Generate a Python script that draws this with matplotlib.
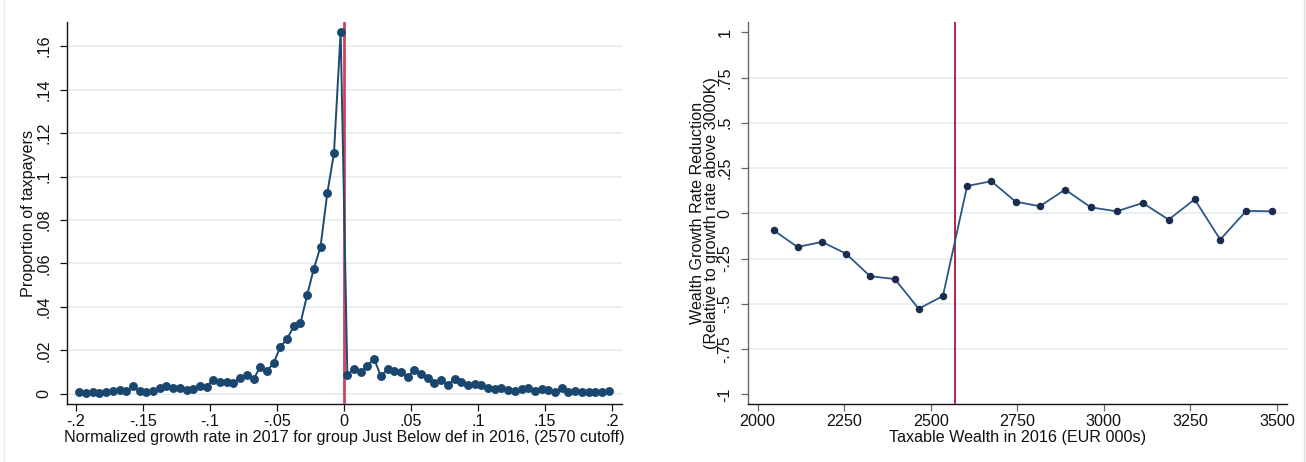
import matplotlib
matplotlib.use("Agg")
import matplotlib.pyplot as plt
from matplotlib.lines import Line2D
import numpy as np

plt.rcParams['font.family'] = ['Liberation Sans', 'DejaVu Sans']

# ---- Left panel data: bunching histogram (bin centres, proportions) ----
left_x = [round(-0.1975 + 0.005 * i, 4) for i in range(80)]
left_y = [
    0.0009, 0.0006, 0.0009, 0.0006, 0.0011, 0.0014, 0.0017, 0.0012, 0.0035, 0.0014,
    0.0009, 0.0014, 0.0026, 0.0038, 0.0029, 0.0026, 0.0020, 0.0023, 0.0037, 0.0034,
    0.0066, 0.0054, 0.0054, 0.0049, 0.0072, 0.0087, 0.0067, 0.0126, 0.0107, 0.0142,
    0.0217, 0.0253, 0.0311, 0.0325, 0.0455, 0.0576, 0.0678, 0.0922, 0.1107, 0.1665,
    0.0087, 0.0115, 0.0101, 0.0130, 0.0162, 0.0081, 0.0115, 0.0107, 0.0101, 0.0080,
    0.0109, 0.0090, 0.0073, 0.0052, 0.0063, 0.0043, 0.0069, 0.0055, 0.0040, 0.0047,
    0.0043, 0.0029, 0.0024, 0.0028, 0.0020, 0.0012, 0.0023, 0.0029, 0.0014, 0.0021,
    0.0017, 0.0011, 0.0029, 0.0011, 0.0014, 0.0008, 0.0011, 0.0011, 0.0008, 0.0015,
]
left_xticks = [-0.2, -0.15, -0.1, -0.05, 0, 0.05, 0.1, 0.15, 0.2]
left_xticklabels = ["-.2", "-.15", "-.1", "-.05", "0", ".05", ".1", ".15", ".2"]
left_yticks = [0, 0.02, 0.04, 0.06, 0.08, 0.1, 0.12, 0.14, 0.16]
left_yticklabels = ["0", ".02", ".04", ".06", ".08", ".1", ".12", ".14", ".16"]
left_cutoff = 0

# ---- Right panel data: growth-rate reduction by wealth bin ----
right_x = [2046, 2115, 2186, 2255, 2325, 2396, 2465, 2535, 2605, 2675,
           2745, 2815, 2888, 2962, 3037, 3112, 3187, 3262, 3336, 3411, 3486]
right_y = [-0.094, -0.186, -0.158, -0.223, -0.348, -0.363, -0.527, -0.457, 0.151, 0.177,
           0.064, 0.039, 0.131, 0.033, 0.011, 0.057, -0.035, 0.077, -0.145, 0.013, 0.011]
right_xticks = [2000, 2250, 2500, 2750, 3000, 3250, 3500]
right_xticklabels = ["2000", "2250", "2500", "2750", "3000", "3250", "3500"]
right_yticks = [-1, -0.75, -0.5, -0.25, 0, 0.25, 0.5, 0.75, 1]
right_yticklabels = ["-1", "-.75", "-.5", "-.25", "0", ".25", ".5", ".75", "1"]
right_gridticks = [-0.75, -0.5, -0.25, 0, 0.25, 0.5, 0.75]
right_cutoff = 2570

W, H = 1306, 462
fig = plt.figure(figsize=(W / 100, H / 100), dpi=100)
fig.patch.set_facecolor('white')

def ax_rect(x0, x1, y0, y1):
    return [x0 / W, 1 - y1 / H, (x1 - x0) / W, (y1 - y0) / H]

GRID = '#e6eef0'
FS = 11.6

# ---------------- Left ----------------
axL = fig.add_axes(ax_rect(66.7, 621.7, 22.3, 404.3))
for yv in left_yticks:
    axL.axhline(yv, color=GRID, lw=1.3, zorder=0)
axL.axvline(left_cutoff, color='#d6405f', lw=2.0, zorder=3)
axL.plot(left_x, left_y, color='#1d4a70', lw=1.4, marker='o', ms=5.4,
         mfc='#1a476f', mec='#1a476f', zorder=4)
axL.set_xlim(-0.2069, 0.2072)
axL.set_ylim(-0.00474, 0.1709)
axL.set_xticks(left_xticks)
axL.set_xticklabels(left_xticklabels)
axL.set_yticks(left_yticks)
axL.set_yticklabels(left_yticklabels)
for s in ['top', 'right']:
    axL.spines[s].set_visible(False)
for s in ['left', 'bottom']:
    axL.spines[s].set_color('#111111')
    axL.spines[s].set_linewidth(1.0)
axL.tick_params(axis='both', direction='out', length=5, width=0.9, colors='#111111',
                labelsize=FS)
axL.tick_params(axis='x', pad=2)
axL.tick_params(axis='y', labelrotation=90, pad=6)
for lab in axL.get_yticklabels():
    lab.set_va('center')
axL.set_xlabel("Normalized growth rate in 2017 for group Just Below def in 2016, (2570 cutoff)",
               fontsize=FS, color='#111111', labelpad=1)
axL.set_ylabel("Proportion of taxpayers", fontsize=FS, color='#111111', va='center')
axL.yaxis.set_label_coords((28.5 - 66.7) / 555, 0.5)

# ---------------- Right ----------------
axR = fig.add_axes(ax_rect(748, 1286.7, 22.3, 404.3))
for yv in right_gridticks:
    axR.axhline(yv, color=GRID, lw=1.3, zorder=0)
axR.axvline(right_cutoff, color='#b01035', lw=1.3, zorder=3)
axR.plot(right_x, right_y, color='#2a5886', lw=1.3, marker='o', ms=4.4,
         mfc='#1c2b50', mec='#1c2b50', zorder=4)
axR.set_xlim(1972, 3528)
axR.set_ylim(-1.055, 1.055)
axR.set_xticks(right_xticks)
axR.set_xticklabels(right_xticklabels)
axR.set_yticks(right_yticks)
axR.set_yticklabels(right_yticklabels)
for s in ['top', 'right']:
    axR.spines[s].set_visible(False)
axR.spines['left'].set_color('#666666')
axR.spines['bottom'].set_color('#111111')
axR.spines['left'].set_linewidth(1.0)
axR.spines['bottom'].set_linewidth(1.0)
axR.tick_params(axis='both', direction='out', length=5, width=0.9, colors='#666666',
                labelcolor='#111111', labelsize=FS)
axR.tick_params(axis='x', pad=2)
axR.tick_params(axis='y', labelrotation=90, pad=6)
for lab in axR.get_yticklabels():
    lab.set_va('center')
axR.set_xlabel("Taxable Wealth in 2016 (EUR 000s)", fontsize=FS, color='#111111', labelpad=1)
axR.set_ylabel("Wealth Growth Rate Reduction\n(Relative to growth rate above 3000K)",
               fontsize=FS, color='#111111', va='center', linespacing=0.95)
axR.yaxis.set_label_coords((704.5 - 748) / 538.7, 0.5)

# faint image borders
fig.add_artist(Line2D([3.5 / W, 3.5 / W], [0, 1], color='#ececec', lw=1.0))
fig.add_artist(Line2D([1303.5 / W, 1303.5 / W], [0, 1], color='#e0e0e0', lw=1.0))

fig.savefig('out.png', dpi=100, facecolor='white')
